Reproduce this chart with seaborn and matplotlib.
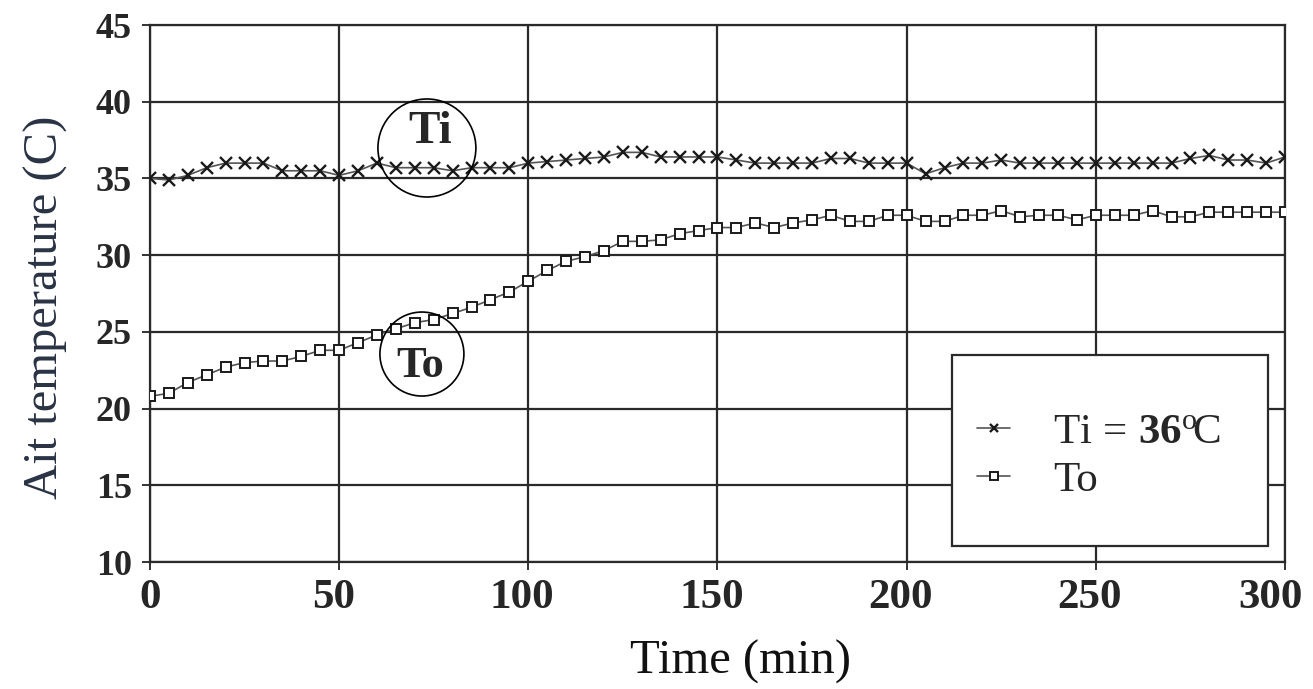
import numpy as np
import pandas as pd
import matplotlib
matplotlib.use("Agg")
import matplotlib.pyplot as plt
from matplotlib.patches import Rectangle, Ellipse
from matplotlib.transforms import ScaledTranslation
import seaborn as sns

time_min = list(range(0, 301, 5))
ti_values = [35.0, 34.9, 35.2, 35.7, 36.0, 36.0, 36.0, 35.5, 35.5, 35.5,
             35.2, 35.5, 36.0, 35.7, 35.7, 35.7, 35.5, 35.7, 35.7, 35.7,
             36.0, 36.1, 36.2, 36.3, 36.4, 36.7, 36.7, 36.4, 36.4, 36.4,
             36.4, 36.2, 36.0, 36.0, 36.0, 36.0, 36.3, 36.3, 36.0, 36.0,
             36.0, 35.3, 35.7, 36.0, 36.0, 36.2, 36.0, 36.0, 36.0, 36.0,
             36.0, 36.0, 36.0, 36.0, 36.0, 36.3, 36.5, 36.2, 36.2, 36.0, 36.4]
to_values = [20.8, 21.0, 21.7, 22.2, 22.7, 23.0, 23.1, 23.1, 23.4, 23.8,
             23.8, 24.3, 24.8, 25.2, 25.6, 25.8, 26.2, 26.6, 27.1, 27.6,
             28.3, 29.0, 29.6, 29.9, 30.3, 30.9, 30.9, 31.0, 31.4, 31.6,
             31.8, 31.8, 32.1, 31.8, 32.1, 32.3, 32.6, 32.2, 32.2, 32.6,
             32.6, 32.2, 32.2, 32.6, 32.6, 32.9, 32.5, 32.6, 32.6, 32.3,
             32.6, 32.6, 32.6, 32.9, 32.5, 32.5, 32.8, 32.8, 32.8, 32.8, 32.8]
x_ticks = [0, 50, 100, 150, 200, 250, 300]
y_ticks = [10, 15, 20, 25, 30, 35, 40, 45]
ti_label = r"$\mathrm{Ti}\,=\,\mathbf{36}^{\mathrm{o}}\!\mathrm{C}$"
to_label = "To"

sns.set_theme(style="white")
plt.rcParams['font.family'] = ['Liberation Serif', 'DejaVu Serif']
plt.rcParams['mathtext.fontset'] = 'custom'
plt.rcParams['mathtext.rm'] = 'Liberation Serif'
plt.rcParams['mathtext.bf'] = 'Liberation Serif:bold'
plt.rcParams['mathtext.it'] = 'Liberation Serif:italic'

fig = plt.figure(figsize=(13.13, 6.89), dpi=100)
ax = fig.add_axes([0.1142, 0.1843, 0.8645, 0.7794])

df = pd.DataFrame({"time": time_min, "Ti": ti_values, "To": to_values})

sns.lineplot(data=df, x="time", y="Ti", ax=ax, color="#555555", linewidth=1.2,
             marker="x", markersize=8, markeredgewidth=1.7,
             markeredgecolor="#1a1a1a", label=ti_label, zorder=3)
sns.lineplot(data=df, x="time", y="To", ax=ax, color="#555555", linewidth=1.2,
             marker="s", markersize=7.5, markerfacecolor="white",
             markeredgewidth=1.4, markeredgecolor="#1a1a1a",
             label=to_label, zorder=3)

ax.set_xlim(0, 300)
ax.set_ylim(10, 45)
ax.set_xticks(x_ticks)
ax.set_yticks(y_ticks)
ax.set_xticklabels([str(v) for v in x_ticks], fontsize=31, fontweight="bold")
ax.set_yticklabels([str(v) for v in y_ticks], fontsize=26, fontweight="bold")
ax.grid(True, color="#2a2a2a", linewidth=1.6)
ax.tick_params(axis="both", direction="out", length=6, width=1.4,
               color="#333333", left=True, bottom=True)
ax.tick_params(axis="x", pad=6)
ax.tick_params(axis="y", pad=7)
for s in ax.spines.values():
    s.set_color("#2a2a2a")
    s.set_linewidth(1.6)

# keep last x tick label inside the figure
xl = ax.get_xticklabels()
xl[-1].set_transform(xl[-1].get_transform() + ScaledTranslation(-0.15, 0, fig.dpi_scale_trans))
for lab in xl[1:-1]:
    lab.set_transform(lab.get_transform() + ScaledTranslation(-0.06, 0, fig.dpi_scale_trans))

ax.set_xlabel("Time (min)", fontsize=35, color="#111111", va="top")
ax.xaxis.set_label_coords(0.52, -0.145)
ax.set_ylabel("Ait temperature (C)", fontsize=35, color="#2a3344", va="bottom")
ax.yaxis.set_label_coords(-0.072, 0.475)

# annotations: circled labels
ax.text(74.0, 38.0, "Ti", fontsize=34, fontweight="bold", ha="center",
        va="center", zorder=4)
ax.add_patch(Ellipse((0.2440, 0.771), 0.0863, 0.1825, transform=ax.transAxes,
                     fill=False, ec="black", lw=1.2, zorder=4))
ax.text(71.4, 22.8, "To", fontsize=32, fontweight="bold", ha="center",
        va="center", zorder=4)
ax.add_patch(Ellipse((0.2396, 0.3873), 0.0740, 0.1564, transform=ax.transAxes,
                     fill=False, ec="black", lw=1.2, zorder=4))

# legend box
rect = Rectangle((0.7066, 0.030), 0.2784, 0.355, transform=ax.transAxes,
                 facecolor="white", edgecolor="#2a2a2a", linewidth=1.6,
                 zorder=5)
ax.add_patch(rect)
leg = ax.legend(loc="upper left", bbox_to_anchor=(0.729, 0.278),
                frameon=False, fontsize=31, handlelength=0.75,
                handletextpad=1.0, labelspacing=0.2, markerscale=0.7,
                borderpad=0, borderaxespad=0)
leg.set_zorder(6)

fig.savefig("out.png", dpi=100)
